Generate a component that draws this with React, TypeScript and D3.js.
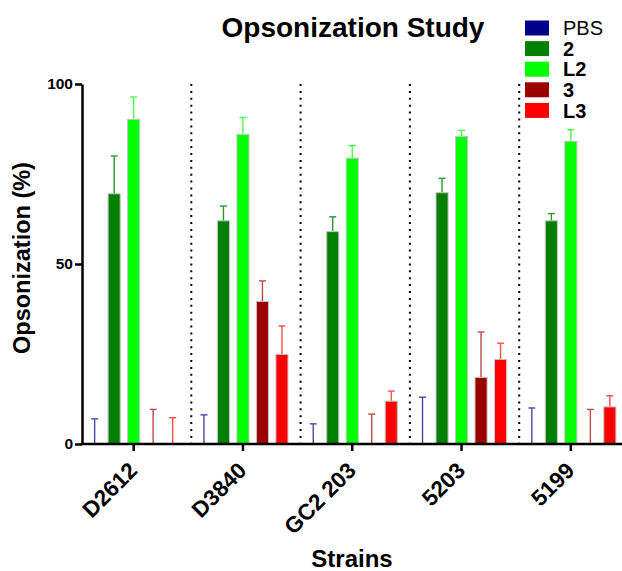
import React, { useEffect, useRef } from "react";
import * as d3 from "d3";

const strains = ["D2612", "D3840", "GC2 203", "5203", "5199"];
const seriesNames = ["PBS", "2", "L2", "3", "L3"];

// mean opsonization (%) per strain, and the upper error bar length
const pbsMean = [0, 0, 0, 0, 0];
const pbsErr = [7, 8.1, 5.6, 13, 10];
const s2Mean = [69.5, 62, 59, 69.8, 62];
const s2Err = [10.5, 4.1, 4.1, 4, 2];
const l2Mean = [90.2, 86, 79.4, 85.4, 84.1];
const l2Err = [6.2, 4.7, 3.5, 1.7, 3.2];
const s3Mean = [0, 39.6, 0, 18.5, 0];
const s3Err = [9.6, 5.7, 8.3, 12.6, 9.6];
const l3Mean = [0, 24.9, 11.9, 23.5, 10.3];
const l3Err = [7.3, 7.9, 2.8, 4.5, 3.1];

const yTicks = [0, 50, 100];

const fills = ["#00008b", "#007f00", "#00ff00", "#9b0000", "#ff0000"];
const errColors = ["#4a4aa8", "#2e962e", "#4cff4c", "#c04848", "#ff4c4c"];

const means = [pbsMean, s2Mean, l2Mean, s3Mean, l3Mean];
const errs = [pbsErr, s2Err, l2Err, s3Err, l3Err];

const W = 622;
const H = 571;
const FONT = "'Liberation Sans', Arial, sans-serif";

const App = () => {
  const yAxisRef = useRef(null);
  const xAxisRef = useRef(null);

  const y = d3.scaleLinear().domain([0, 100]).range([444, 84]);
  const x = d3.scaleBand().domain(strains).range([79, 625.5]).paddingInner(0);
  const xs = d3
    .scaleBand()
    .domain(seriesNames)
    .range([-48.75, 48.75])
    .paddingInner(0.38)
    .paddingOuter(0.19);

  const center = (s) => x(s) + x.bandwidth() / 2;

  useEffect(() => {
    const gy = d3.select(yAxisRef.current);
    gy.call(d3.axisLeft(y).tickValues(yTicks).tickSize(7).tickSizeOuter(0).tickPadding(2));
    gy.select(".domain").attr("stroke", "#000").attr("stroke-width", 2.5);
    gy.selectAll(".tick line").attr("stroke", "#000").attr("stroke-width", 2.5);
    gy.selectAll(".tick text")
      .attr("font-family", FONT)
      .attr("font-weight", "bold")
      .attr("font-size", 15.5)
      .attr("fill", "#000");

    const gx = d3.select(xAxisRef.current);
    gx.call(d3.axisBottom(x).tickSize(7).tickSizeOuter(0));
    gx.select(".domain").remove();
    gx.selectAll(".tick line").attr("stroke", "#000").attr("stroke-width", 2.5);
    gx.selectAll(".tick text")
      .attr("font-family", FONT)
      .attr("font-weight", "bold")
      .attr("font-size", 22.5)
      .attr("fill", "#000")
      .attr("text-anchor", "end")
      .attr("y", null)
      .attr("dy", null)
      .attr("transform", "translate(5,28) rotate(-45)");
  }, []);

  return (
    <svg
      width={W}
      height={H}
      style={{ position: "absolute", left: 0, top: 0, background: "#fff" }}
    >
      {/* dotted separators between strains */}
      {strains.slice(1).map((s) => (
        <line
          key={s}
          x1={x(s) + 3}
          x2={x(s) + 3}
          y1={y(100)}
          y2={y(0)}
          stroke="#000"
          strokeWidth={2}
          strokeDasharray="2 4.9"
        />
      ))}

      {seriesNames.map((name, si) => (
        <g key={name}>
          {strains.map((s, i) => {
            const cx = center(s) + xs(name) + xs.bandwidth() / 2;
            const bw = xs.bandwidth();
            const m = means[si][i];
            const top = m + errs[si][i];
            return (
              <g key={s}>
                <line
                  x1={cx}
                  x2={cx}
                  y1={y(m)}
                  y2={y(top)}
                  stroke={errColors[si]}
                  strokeWidth={1.4}
                />
                <line
                  x1={cx - 3.5}
                  x2={cx + 3.5}
                  y1={y(top)}
                  y2={y(top)}
                  stroke={errColors[si]}
                  strokeWidth={1.4}
                />
                {m > 0 && (
                  <rect
                    x={cx - bw / 2}
                    y={y(m)}
                    width={bw}
                    height={y(0) - y(m)}
                    fill={fills[si]}
                    stroke="#c4c4c4"
                    strokeWidth={1}
                  />
                )}
              </g>
            );
          })}
        </g>
      ))}

      <g ref={xAxisRef} transform={`translate(0,${y(0)})`} />
      <line x1={81} x2={W} y1={y(0)} y2={y(0)} stroke="#000" strokeWidth={2.5} />
      <g ref={yAxisRef} transform="translate(82,0)" />

      <text
        x={353}
        y={37}
        textAnchor="middle"
        fontFamily={FONT}
        fontWeight="bold"
        fontSize={28}
      >
        Opsonization Study
      </text>
      <text
        transform="translate(30,258) rotate(-90)"
        textAnchor="middle"
        fontFamily={FONT}
        fontWeight="bold"
        fontSize={23.5}
      >
        Opsonization (%)
      </text>
      <text
        x={352}
        y={567}
        textAnchor="middle"
        fontFamily={FONT}
        fontWeight="bold"
        fontSize={24}
      >
        Strains
      </text>

      {seriesNames.map((name, si) => (
        <g key={name} transform={`translate(525,${28 + si * 20.6})`}>
          <rect x={0} y={-7.5} width={24} height={15} fill={fills[si]} />
          <text
            x={38}
            dy="0.36em"
            fontFamily={FONT}
            fontWeight={si === 0 ? "normal" : "bold"}
            fontSize={20}
          >
            {name}
          </text>
        </g>
      ))}
    </svg>
  );
};

export default App;
